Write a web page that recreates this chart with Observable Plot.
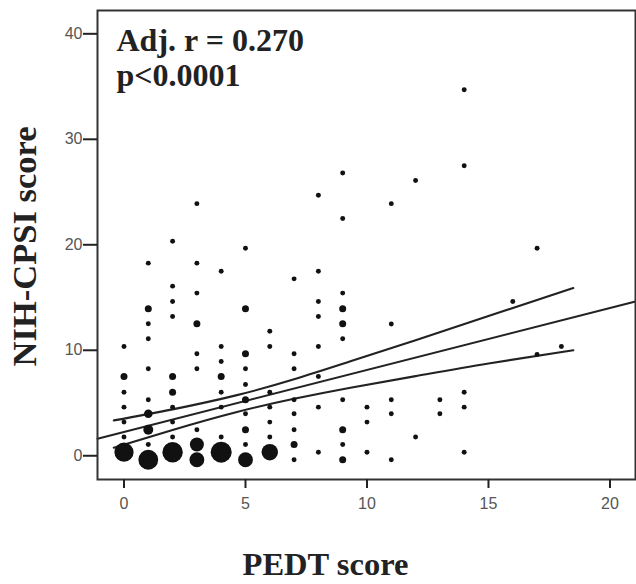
<!DOCTYPE html>
<html><head><meta charset="utf-8">
<script src="https://cdn.jsdelivr.net/npm/d3@7"></script>
<script src="https://cdn.jsdelivr.net/npm/@observablehq/plot@0.6"></script>
<style>body{margin:0;background:#fff}</style>
</head><body><div id="chart"></div>
<script>
// PEDT score (x) of each plotted point
const pedt = [
  0,0,0,0,0,0,0,
  1,1,1,1,1,1,1,1,1,1,
  2,2,2,2,2,2,2,2,2,2,
  3,3,3,3,3,3,3,3,3,
  4,4,4,4,4,4,4,4,
  5,5,5,5,5,5,5,5,5,5,
  6,6,6,6,6,6,6,
  7,7,7,7,7,7,7,7,
  8,8,8,8,8,8,8,8,
  9,9,9,9,9,9,9,9,9,9,
  10,10,10,
  11,11,11,11,11,
  12,12,
  13,13,
  14,14,14,14,14,
  16,
  17,17,
  18
];
// NIH-CPSI score (y) of each plotted point
const cpsi = [
  10.36,7.52,6.03,4.61,3.19,1.77,0.34,
  18.26,13.93,12.51,11.09,8.24,5.31,3.98,2.46,1.07,-0.38,
  20.34,16.08,14.63,13.20,7.52,6.03,4.61,3.19,1.77,0.34,
  23.9,18.26,15.42,12.51,9.67,8.24,2.46,1.07,-0.38,
  17.50,10.36,8.94,7.52,6.03,4.61,1.77,0.34,
  19.68,13.93,9.67,8.24,6.76,5.31,3.98,2.46,1.07,-0.38,
  11.81,10.36,6.03,4.61,3.19,1.77,0.34,
  16.77,9.67,8.24,5.31,3.98,2.46,1.07,-0.38,
  24.7,17.50,14.63,13.20,10.36,7.52,4.61,0.34,
  26.8,22.5,15.42,13.93,12.51,11.09,5.31,2.46,1.07,-0.38,
  4.61,3.19,0.34,
  23.9,12.5,5.31,3.98,-0.38,
  26.1,1.77,
  5.31,3.98,
  34.7,27.5,6.03,4.61,0.34,
  14.63,
  19.68,9.6,
  10.36
];
// number of overlapping subjects at each point (drives marker size)
const counts = [
  1,2,1,1,1,1,15,
  1,2,1,1,1,1,3,4,1,16,
  1,1,1,1,2,2,1,1,1,17,
  1,1,1,2,1,1,1,8,9,
  1,1,1,2,1,1,1,18,
  1,2,2,1,1,2,1,2,1,9,
  1,1,1,1,1,1,11,
  1,1,1,1,1,1,2,1,
  1,1,1,1,1,1,1,1,
  1,1,1,2,2,1,1,2,1,2,
  1,1,1,
  1,1,1,1,1,
  1,1,
  1,1,
  1,1,1,1,1,
  1,
  1,1,
  1
];
const xTicks = [0, 5, 10, 15, 20];
const yTicks = [0, 10, 20, 30, 40];
// fitted regression line
const fitX = [-1.09, 21.05];
const fitY = [1.62, 14.62];
// 95% confidence band of the mean
const ciX = [-0.42, 2, 4.65, 7, 9.32, 12, 15, 18.49];
const ciUpper = [3.35, 4.4, 5.75, 7.25, 8.95, 10.95, 13.25, 15.9];
const ciLower = [0.76, 2.45, 4.15, 5.4, 6.45, 7.55, 8.75, 10.0];
const xTitle = "PEDT score";
const yTitle = "NIH-CPSI score";
const stats = ["Adj. r = 0.270", "p<0.0001"];

const points = pedt.map((x, i) => ({x, y: cpsi[i], n: counts[i]}));
const fit = fitX.map((x, i) => ({x, y: fitY[i]}));
const upper = ciX.map((x, i) => ({x, y: ciUpper[i]}));
const lower = ciX.map((x, i) => ({x, y: ciLower[i]}));

const serif = "'Liberation Serif', 'Times New Roman', serif";
const sans = "'Liberation Sans', Arial, sans-serif";
const lineStyle = {x: "x", y: "y", stroke: "#222", strokeWidth: 2.1};

const chart = Plot.plot({
  width: 636,
  height: 584,
  marginLeft: 97,
  marginRight: 1,
  marginTop: 10,
  marginBottom: 105,
  style: {background: "white", fontFamily: sans, overflow: "visible"},
  x: {domain: [-1.09, 21.05]},
  y: {domain: [-2.25, 42.21]},
  r: {domain: [0, 18], range: [0, 10.5]},
  marks: [
    Plot.line(fit, lineStyle),
    Plot.line(upper, {...lineStyle, curve: "natural"}),
    Plot.line(lower, {...lineStyle, curve: "natural"}),
    Plot.dot(points, {x: "x", y: "y", r: "n", fill: "#111", stroke: null}),
    Plot.frame({stroke: "#333", strokeWidth: 2}),
    Plot.axisX(xTicks, {tickSize: 9, tickPadding: 9, fontSize: 16, fontFamily: sans, color: "#555", stroke: "#222", strokeWidth: 2, label: null}),
    Plot.axisY(yTicks, {tickSize: 14, tickPadding: 1, fontSize: 16, fontFamily: sans, color: "#555", stroke: "#222", strokeWidth: 2, label: null}),
    Plot.text([stats.join("\n")], {text: d => d, frameAnchor: "top-left", textAnchor: "start", lineAnchor: "top", dx: 19, dy: 15, lineHeight: 1.1, fontSize: 32, fontFamily: serif, fontWeight: "bold", fill: "#222"}),
    Plot.text([xTitle], {text: d => d, frameAnchor: "bottom", textAnchor: "middle", lineAnchor: "middle", dx: -41, dy: 85, fontSize: 32.5, fontFamily: serif, fontWeight: "bold", fill: "#222"}),
    Plot.text([yTitle], {text: d => d, frameAnchor: "left", textAnchor: "middle", rotate: -90, lineAnchor: "middle", dx: -72.5, dy: 1.5, fontSize: 34.5, fontFamily: serif, fontWeight: "bold", fill: "#222"})
  ]
});
document.getElementById("chart").appendChild(chart);
</script>
</body></html>
